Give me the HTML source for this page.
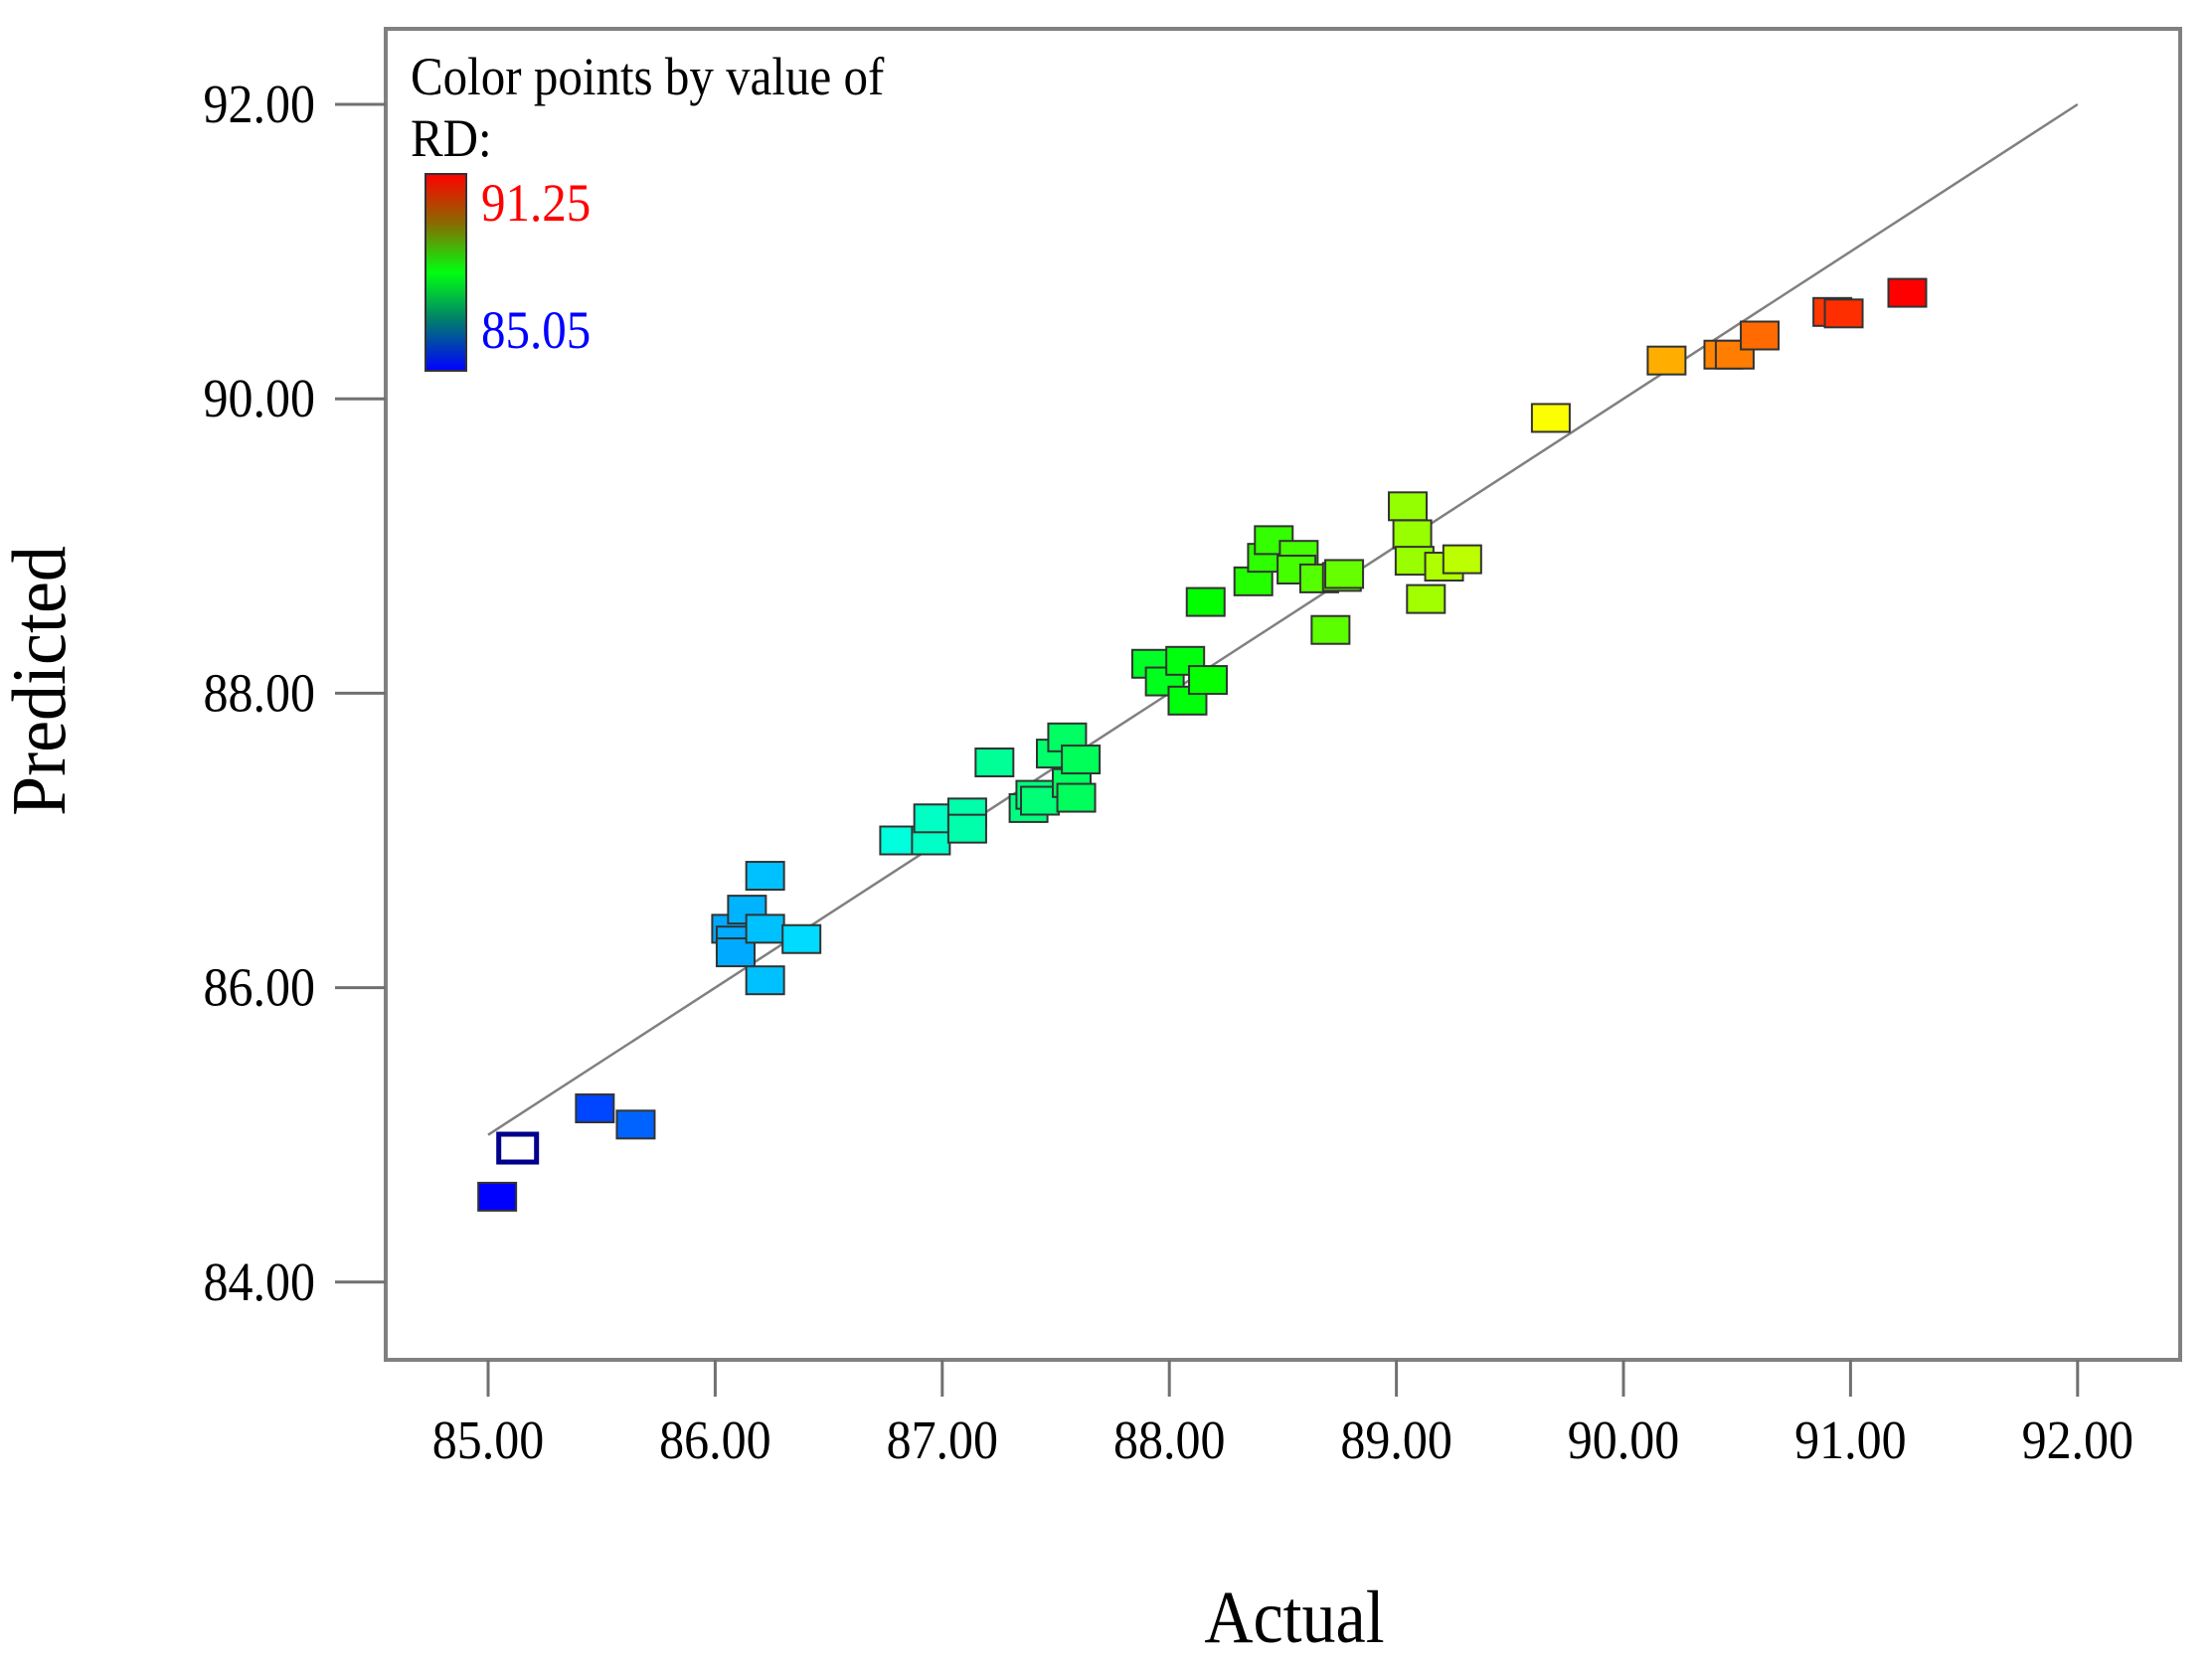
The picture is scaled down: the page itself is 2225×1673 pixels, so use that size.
<!DOCTYPE html>
<html><head><meta charset="utf-8">
<style>
html,body{margin:0;padding:0;background:#fff;}
svg{display:block;font-family:"Liberation Serif",serif;}
</style></head>
<body>
<svg id="chart" width="2225" height="1673" viewBox="0 0 2225 1673">
<rect x="0" y="0" width="2225" height="1673" fill="#fff"/>
<rect x="388" y="29" width="1805" height="1339" fill="#fff" stroke="#808080" stroke-width="4"/>
<g id="xticks"></g>
<g id="yticks"></g>
<line id="fitline" stroke="#808080" stroke-width="2.5"/>
<g id="points"></g>
<g>
<text transform="translate(413,95) scale(1,1.1)" font-size="49" fill="#000">Color points by value of</text>
<text transform="translate(413,157) scale(1,1.1)" font-size="49" fill="#000">RD:</text>
<defs><linearGradient id="cg" x1="0" y1="0" x2="0" y2="1">
<stop offset="0" stop-color="#ff0000"/><stop offset="0.25" stop-color="#8a6a00"/>
<stop offset="0.5" stop-color="#00ff10"/><stop offset="0.75" stop-color="#007a70"/>
<stop offset="1" stop-color="#0000ff"/></linearGradient></defs>
<rect x="428" y="175" width="41" height="198" fill="url(#cg)" stroke="#333" stroke-width="2"/>
<text transform="translate(484,222) scale(1,1.1)" font-size="49" fill="#ff0000">91.25</text>
<text transform="translate(484,350) scale(1,1.1)" font-size="49" fill="#0000ff">85.05</text>
</g>
<text transform="translate(1302,1652) scale(1,1.1)" font-size="68" text-anchor="middle" fill="#000">Actual</text>
<text transform="translate(65,685) rotate(-90) scale(1,1.08)" font-size="72" text-anchor="middle" fill="#000">Predicted</text>
</svg>
<script>
const actual = [85.04,85.13,85.47,85.65,86.07,86.09,86.09,86.14,86.22,86.22,86.22,86.38,86.81,86.95,86.96,87.11,87.11,87.23,87.38,87.41,87.43,87.50,87.55,87.57,87.59,87.61,87.92,87.98,88.07,88.08,88.17,88.16,88.37,88.43,88.46,88.57,88.56,88.66,88.76,88.77,88.71,89.05,89.07,89.08,89.13,89.21,89.29,89.68,90.19,90.44,90.49,90.60,90.92,90.97,91.25];
const predicted = [84.58,84.91,85.18,85.07,86.40,86.32,86.24,86.53,86.76,86.40,86.05,86.33,87.00,87.00,87.15,87.19,87.08,87.53,87.22,87.31,87.27,87.59,87.70,87.39,87.29,87.55,88.20,88.08,88.22,87.95,88.09,88.62,88.76,88.92,89.04,88.94,88.84,88.78,88.79,88.81,88.43,89.27,89.08,88.90,88.64,88.86,88.91,89.87,90.26,90.30,90.30,90.43,90.59,90.58,90.72];
const hollowIndex = [1];
const xTicks = [85,86,87,88,89,90,91,92];
const yTicks = [84,86,88,90,92];
const colorMin = 85.05, colorMax = 91.25;

const NS = "http://www.w3.org/2000/svg";
function xs(v){ return 491 + (v-85)*228.4; }
function ys(v){ return 105 + (92-v)*148.1; }
function colorOf(v){
  let t = (v-colorMin)/(colorMax-colorMin); t=Math.max(0,Math.min(1,t));
  return "hsl(" + (240*(1-t)).toFixed(1) + ",100%,50%)";
}
const xg = document.getElementById('xticks');
xTicks.forEach(v=>{
  const l=document.createElementNS(NS,'line');
  l.setAttribute('x1',xs(v));l.setAttribute('x2',xs(v));l.setAttribute('y1',1368);l.setAttribute('y2',1405);
  l.setAttribute('stroke','#707070');l.setAttribute('stroke-width','3');
  
  
  xg.appendChild(l);
  const t=document.createElementNS(NS,'text');
  t.setAttribute('transform','translate('+xs(v)+',1467) scale(1,1.1)');
  t.setAttribute('font-size','50');t.setAttribute('text-anchor','middle');
  t.textContent=v.toFixed(2);
  
  
  xg.appendChild(t);
});
const yg = document.getElementById('yticks');
yTicks.forEach(v=>{
  const l=document.createElementNS(NS,'line');
  l.setAttribute('x1',337);l.setAttribute('x2',388);l.setAttribute('y1',ys(v));l.setAttribute('y2',ys(v));
  l.setAttribute('stroke','#707070');l.setAttribute('stroke-width','3');
  
  
  yg.appendChild(l);
  const t=document.createElementNS(NS,'text');
  t.setAttribute('transform','translate(317,'+(ys(v)+18)+') scale(1,1.1)');
  t.setAttribute('font-size','50');t.setAttribute('text-anchor','end');
  t.textContent=v.toFixed(2);
  
  
  yg.appendChild(t);
});
const fl=document.getElementById('fitline');
fl.setAttribute('x1',xs(85));fl.setAttribute('y1',ys(85));fl.setAttribute('x2',xs(92));fl.setAttribute('y2',ys(92));
const pg=document.getElementById('points');
const W=38,H=28;
actual.forEach((a,i)=>{
  const r=document.createElementNS(NS,'rect');
  r.setAttribute('x',xs(a)-W/2);r.setAttribute('y',ys(predicted[i])-H/2);
  r.setAttribute('width',W);r.setAttribute('height',H);
  if(hollowIndex.includes(i)){
    r.setAttribute('fill','#fff');r.setAttribute('stroke','#00008b');r.setAttribute('stroke-width','5');
  } else {
    r.setAttribute('fill',colorOf(a));r.setAttribute('stroke','#333');r.setAttribute('stroke-width','2');
  }
  
  
  pg.appendChild(r);
});
</script>
</body></html>
